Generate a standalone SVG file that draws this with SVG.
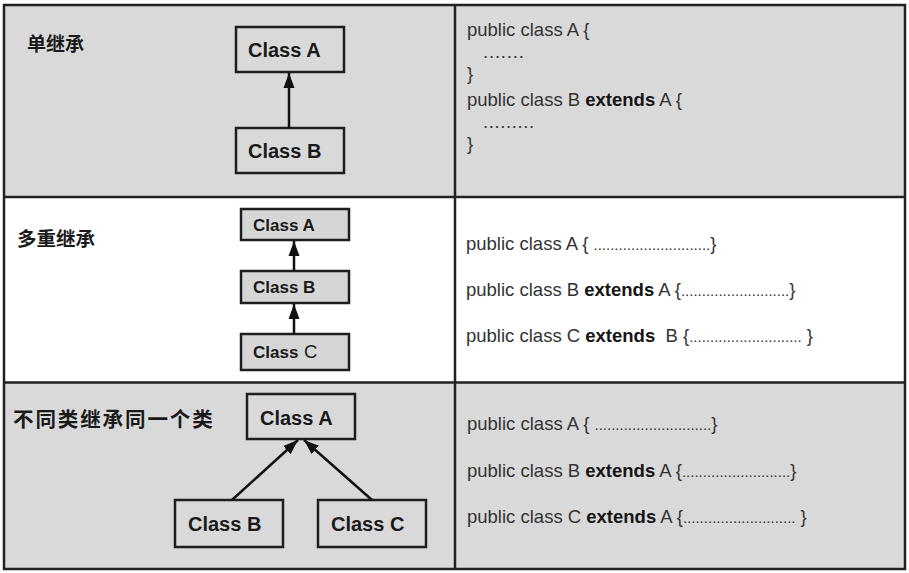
<svg xmlns="http://www.w3.org/2000/svg" width="909" height="573" viewBox="0 0 909 573">
<style>
.bg{fill:#d9d9d9}
.grid{fill:none;stroke:#222;stroke-width:2.5}
.box{fill:none;stroke:#1e1e1e;stroke-width:2.5}
.box2{fill:#d6d6d6;stroke:#1e1e1e;stroke-width:2.5}
.cls{font-family:"Liberation Sans",Arial,sans-serif;font-weight:bold;fill:#1a1a1a}
.lbl{font-family:"Liberation Sans","Noto Sans CJK SC",sans-serif;font-weight:bold;fill:#1a1a1a}
.code{font-family:"Liberation Sans",Arial,sans-serif;font-size:18.5px;fill:#333;white-space:pre}
.code .kw{font-weight:bold;fill:#151515}
.code .d{font-size:15px}
.conn line{stroke:#111;stroke-width:2.5;marker-end:url(#arr)}
</style>
<defs>
<marker id="arr" markerUnits="userSpaceOnUse" markerWidth="16" markerHeight="12" refX="15" refY="6" orient="auto">
<path d="M0,0.5 L15,6 L0,11.5 z" fill="#111"/>
</marker>
</defs>
<rect width="909" height="573" fill="#ffffff"/>
<rect class="bg" x="4" y="5" width="901" height="192"/>
<rect x="4" y="197" width="901" height="185.5" fill="#ffffff"/>
<rect class="bg" x="4" y="382.5" width="901" height="186.5"/>
<g id="table">
<rect class="grid" x="4" y="5" width="901" height="564"/>
<line class="grid" x1="4" y1="197" x2="905" y2="197"/>
<line class="grid" x1="4" y1="382.5" x2="905" y2="382.5"/>
<line class="grid" x1="455" y1="5" x2="455" y2="569"/>
</g>
<g id="labels">
<text class="lbl" x="27" y="51" font-size="19">单继承</text>
<text class="lbl" x="17" y="246" font-size="19.5">多重继承</text>
<text class="lbl" x="13" y="427" font-size="20.5" letter-spacing="1.9">不同类继承同一个类</text>
</g>
<g id="r1-classA"><rect class="box" x="236" y="27" width="108" height="45"/><text class="cls" x="248" y="57" font-size="20">Class A</text></g>
<g id="r1-classB"><rect class="box" x="236" y="128" width="108" height="45"/><text class="cls" x="248" y="158" font-size="20">Class B</text></g>
<g id="r2-classA"><rect class="box2" x="241" y="209" width="108" height="31"/><text class="cls" x="253" y="231" font-size="17">Class A</text></g>
<g id="r2-classB"><rect class="box2" x="241" y="271" width="108" height="32"/><text class="cls" x="253" y="293" font-size="17">Class B</text></g>
<g id="r2-classC"><rect class="box2" x="241" y="334" width="108" height="36"/><text class="cls" x="253" y="358" font-size="17">Class <tspan font-weight="normal" font-size="18.5" dx="1">C</tspan></text></g>
<g id="r3-classA"><rect class="box" x="247" y="394" width="108" height="45"/><text class="cls" x="260" y="425" font-size="20">Class A</text></g>
<g id="r3-classB"><rect class="box" x="175" y="500" width="108" height="47"/><text class="cls" x="188" y="531" font-size="20">Class B</text></g>
<g id="r3-classC"><rect class="box" x="318" y="500" width="108" height="47"/><text class="cls" x="331" y="531" font-size="20">Class C</text></g>
<g id="connectors" class="conn">
<line x1="289" y1="128" x2="289" y2="73"/>
<line x1="294" y1="271" x2="294" y2="241"/>
<line x1="294" y1="334" x2="294" y2="304"/>
<line x1="232" y1="500" x2="298" y2="440"/>
<line x1="372" y1="500" x2="304" y2="440"/>
</g>
<g id="code1">
<text class="code" x="467" y="36">public class A {</text>
<text class="code" x="483" y="58" letter-spacing="0.8">.......</text>
<text class="code" x="467" y="80">}</text>
<text class="code" x="467" y="106">public class B <tspan class="kw">extends</tspan> A {</text>
<text class="code" x="483" y="128" letter-spacing="0.6">.........</text>
<text class="code" x="467" y="150">}</text>
</g>
<g id="code2">
<text class="code" x="466" y="250">public class A { <tspan class="d">............................</tspan>}</text>
<text class="code" x="466" y="296">public class B <tspan class="kw">extends</tspan> A {<tspan class="d">..........................</tspan>}</text>
<text class="code" x="466" y="342">public class C <tspan class="kw">extends</tspan>  B {<tspan class="d">...........................</tspan> }</text>
</g>
<g id="code3">
<text class="code" x="467" y="430">public class A { <tspan class="d">............................</tspan>}</text>
<text class="code" x="467" y="477">public class B <tspan class="kw">extends</tspan> A {<tspan class="d">..........................</tspan>}</text>
<text class="code" x="467" y="523">public class C <tspan class="kw">extends</tspan> A {<tspan class="d">...........................</tspan> }</text>
</g>
</svg>
